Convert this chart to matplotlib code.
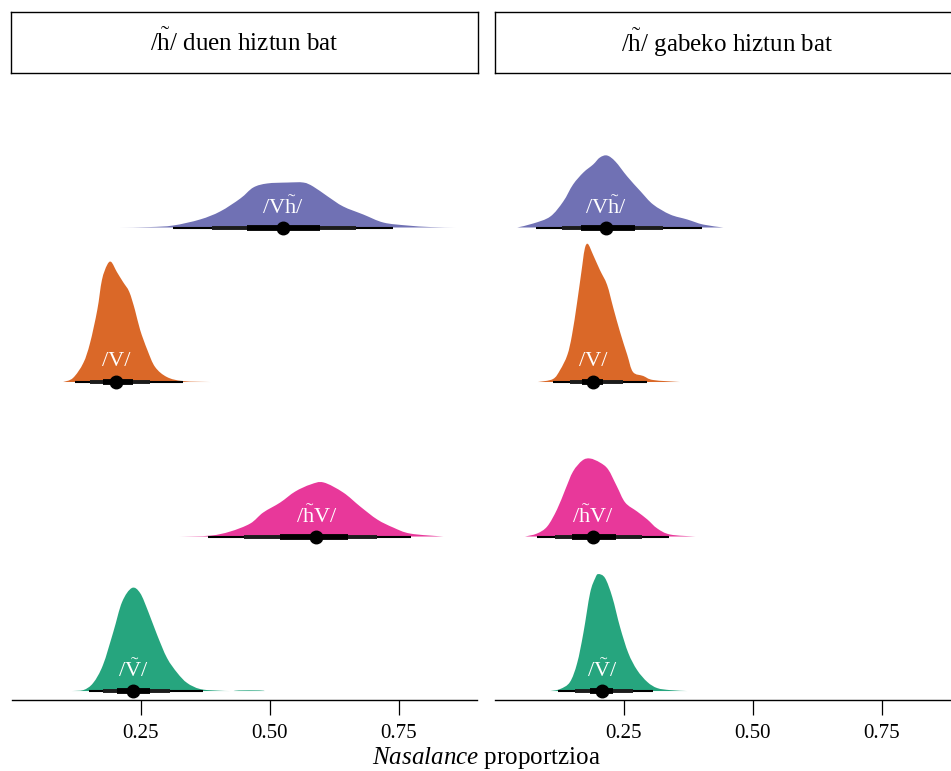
"""
Half-eye plots of nasalance proportion per context, two speaker groups.
Densities were read off the reference chart as (x, height) points.
"""

import matplotlib
matplotlib.use("Agg")
import matplotlib.pyplot as plt
from matplotlib.path import Path
from matplotlib.patches import PathPatch

plt.rcParams["font.family"] = ["Liberation Serif", "DejaVu Serif"]
plt.rcParams["mathtext.fontset"] = "custom"
plt.rcParams["mathtext.rm"] = "Liberation Serif"
plt.rcParams["mathtext.it"] = "Liberation Serif:italic"

# ── Data ──────────────────────────────────────────────────────────────────────

H_TILDE = r"$\tilde{\mathrm{h}}$"
V_TILDE = r"$\tilde{\mathrm{V}}$"

PANELS = [f"/{H_TILDE}/ duen hiztun bat", f"/{H_TILDE}/ gabeko hiztun bat"]
CATEGORIES = [f"/V{H_TILDE}/", "/V/", f"/{H_TILDE}V/", f"/{V_TILDE}/"]  # top→bottom
COLORS = ["#7071B4", "#DA6828", "#E8389A", "#26A57E"]
X_TICKS = [0.25, 0.50, 0.75]
X_LABEL = r"$\it{Nasalance}$ proportzioa"

# left panel (/h̃/ duen hiztun bat): density outline x and height (row units)
L_VH_X = [0.210, 0.268, 0.313, 0.365, 0.404, 0.443, 0.468, 0.495, 0.534,
          0.565, 0.584, 0.612, 0.642, 0.681, 0.720, 0.766, 0.811, 0.859]
L_VH_H = [0.000, 0.003, 0.013, 0.052, 0.104, 0.188, 0.259, 0.285, 0.291,
          0.291, 0.265, 0.201, 0.136, 0.084, 0.032, 0.013, 0.003, 0.000]
L_V_X = [0.100, 0.119, 0.139, 0.152, 0.166, 0.175, 0.185, 0.193, 0.204,
         0.216, 0.228, 0.239, 0.249, 0.263, 0.278, 0.301, 0.332, 0.385]
L_V_H = [0.000, 0.026, 0.123, 0.252, 0.466, 0.660, 0.757, 0.777, 0.712,
         0.647, 0.583, 0.466, 0.337, 0.207, 0.097, 0.032, 0.006, 0.000]
L_HV_X = [0.326, 0.385, 0.423, 0.462, 0.487, 0.520, 0.549, 0.579, 0.604,
          0.642, 0.675, 0.708, 0.739, 0.772, 0.836]
L_HV_H = [0.000, 0.006, 0.032, 0.084, 0.155, 0.220, 0.291, 0.337, 0.350,
          0.285, 0.194, 0.110, 0.058, 0.019, 0.000]
L_VN_X = [0.117, 0.139, 0.158, 0.177, 0.197, 0.214, 0.233, 0.249, 0.265,
          0.282, 0.301, 0.321, 0.340, 0.365, 0.398, 0.423, 0.430, 0.440,
          0.480, 0.490]
L_VN_H = [0.000, 0.006, 0.052, 0.168, 0.382, 0.576, 0.667, 0.634, 0.511,
          0.362, 0.214, 0.117, 0.052, 0.013, 0.003, 0.000, 0.000, 0.004,
          0.004, 0.000]

# right panel (/h̃/ gabeko hiztun bat)
R_VH_X = [0.044, 0.075, 0.108, 0.133, 0.152, 0.172, 0.191, 0.204, 0.218,
          0.234, 0.257, 0.283, 0.307, 0.340, 0.373, 0.404, 0.443]
R_VH_H = [0.000, 0.026, 0.071, 0.168, 0.278, 0.356, 0.408, 0.453, 0.466,
          0.427, 0.330, 0.233, 0.149, 0.084, 0.052, 0.019, 0.000]
R_V_X = [0.084, 0.113, 0.127, 0.141, 0.150, 0.160, 0.170, 0.175, 0.181,
         0.191, 0.204, 0.218, 0.230, 0.243, 0.257, 0.268, 0.288, 0.307, 0.359]
R_V_H = [0.000, 0.019, 0.078, 0.175, 0.304, 0.518, 0.757, 0.867, 0.893,
         0.822, 0.725, 0.628, 0.479, 0.324, 0.175, 0.065, 0.039, 0.013, 0.000]
R_HV_X = [0.059, 0.082, 0.102, 0.121, 0.137, 0.152, 0.170, 0.185, 0.204,
          0.220, 0.237, 0.253, 0.276, 0.296, 0.315, 0.340, 0.389]
R_HV_H = [0.000, 0.019, 0.065, 0.175, 0.304, 0.421, 0.492, 0.505, 0.479,
          0.434, 0.324, 0.220, 0.162, 0.110, 0.052, 0.013, 0.000]
R_VN_X = [0.108, 0.127, 0.146, 0.160, 0.172, 0.185, 0.195, 0.201, 0.214,
          0.228, 0.243, 0.259, 0.276, 0.296, 0.315, 0.340, 0.373]
R_VN_H = [0.000, 0.013, 0.058, 0.181, 0.375, 0.634, 0.731, 0.757, 0.731,
          0.608, 0.414, 0.246, 0.136, 0.058, 0.019, 0.006, 0.000]

# point summaries: median and (lo, hi) of the 95 %, 80 % and 50 % intervals
L_MEDIAN = [0.526, 0.203, 0.590, 0.235]
L_CI95 = [(0.313, 0.739), (0.123, 0.332), (0.381, 0.774), (0.150, 0.371)]
L_CI80 = [(0.389, 0.666), (0.152, 0.268), (0.450, 0.708), (0.177, 0.307)]
L_CI50 = [(0.456, 0.598), (0.177, 0.235), (0.520, 0.652), (0.204, 0.268)]

R_MEDIAN = [0.216, 0.191, 0.191, 0.208]
R_CI95 = [(0.080, 0.402), (0.113, 0.296), (0.082, 0.338), (0.123, 0.307)]
R_CI80 = [(0.131, 0.327), (0.146, 0.249), (0.117, 0.286), (0.156, 0.268)]
R_CI50 = [(0.168, 0.272), (0.170, 0.210), (0.150, 0.235), (0.185, 0.230)]


# ── Plotting helpers ──────────────────────────────────────────────────────────

def _smooth_slab(xs, hs, y0):
    """Closed path: Catmull-Rom curve through the read points, flat base."""
    pts = [(x, y0 + h) for x, h in zip(xs, hs)]
    verts = [(xs[0], y0), pts[0]]
    codes = [Path.MOVETO, Path.LINETO]
    n = len(pts)
    for i in range(n - 1):
        p0 = pts[i - 1] if i > 0 else pts[i]
        p1, p2 = pts[i], pts[i + 1]
        p3 = pts[i + 2] if i + 2 < n else pts[i + 1]
        c1 = (p1[0] + (p2[0] - p0[0]) / 6, max(y0, p1[1] + (p2[1] - p0[1]) / 6))
        c2 = (p2[0] - (p3[0] - p1[0]) / 6, max(y0, p2[1] - (p3[1] - p1[1]) / 6))
        verts += [c1, c2, p2]
        codes += [Path.CURVE4] * 3
    verts += [(xs[-1], y0), (xs[0], y0)]
    codes += [Path.LINETO, Path.CLOSEPOLY]
    return Path(verts, codes)


def _draw_panel(ax, xs, hs, medians, ci95, ci80, ci50):
    n = len(CATEGORIES)
    for i, cat in enumerate(CATEGORIES):
        y0 = n - i
        ax.add_patch(PathPatch(_smooth_slab(xs[i], hs[i], y0),
                               facecolor=COLORS[i], edgecolor="none", zorder=1))
        ax.plot(ci95[i], [y0, y0], color="black", lw=1.5,
                solid_capstyle="butt", zorder=2)
        ax.plot(ci80[i], [y0, y0], color="#1c1c1c", lw=2.8,
                solid_capstyle="butt", zorder=3)
        ax.plot(ci50[i], [y0, y0], color="black", lw=4.2,
                solid_capstyle="butt", zorder=4)
        ax.plot([medians[i]], [y0], "o", color="black", ms=9, zorder=5)
        ax.text(medians[i], y0 + 0.13, cat, color="white", fontsize=16,
                ha="center", va="center", zorder=6)

    ax.set_xlim(0.0, 0.9)
    ax.set_ylim(0.942, 4.987)
    ax.set_xticks(X_TICKS)
    ax.set_xticklabels([f"{t:.2f}" for t in X_TICKS], fontsize=15)
    ax.set_yticks([])
    for side in ("left", "right", "top"):
        ax.spines[side].set_visible(False)
    ax.spines["bottom"].set_linewidth(1.0)
    ax.tick_params(axis="x", length=11, width=0.9, pad=6, color="black")


def _draw_strip(fig, rect, label):
    sax = fig.add_axes(rect)
    sax.set_xticks([])
    sax.set_yticks([])
    for sp in sax.spines.values():
        sp.set_linewidth(1.0)
    sax.text(0.5, 0.5, label, ha="center", va="center", fontsize=18,
             transform=sax.transAxes)


# ── Figure ────────────────────────────────────────────────────────────────────

W, H = 951, 771
fig = plt.figure(figsize=(W / 100, H / 100), dpi=100)

ax_w = 465 / W
ax_b = (H - 700) / H
ax_h = (700 - 75) / H
strip_b = (H - 73) / H
strip_h = 61 / H

left_x = 11.5 / W
right_x = 494.5 / W

ax_l = fig.add_axes([left_x, ax_b, ax_w, ax_h])
ax_r = fig.add_axes([right_x, ax_b, ax_w, ax_h])

_draw_panel(ax_l, [L_VH_X, L_V_X, L_HV_X, L_VN_X],
            [L_VH_H, L_V_H, L_HV_H, L_VN_H],
            L_MEDIAN, L_CI95, L_CI80, L_CI50)
_draw_panel(ax_r, [R_VH_X, R_V_X, R_HV_X, R_VN_X],
            [R_VH_H, R_V_H, R_HV_H, R_VN_H],
            R_MEDIAN, R_CI95, R_CI80, R_CI50)

_draw_strip(fig, [left_x - 0.5 / W, strip_b, ax_w + 2 / W, strip_h], PANELS[0])
_draw_strip(fig, [right_x + 0.5 / W, strip_b, ax_w, strip_h], PANELS[1])

fig.text(486 / W, (H - 764) / H, X_LABEL, ha="center", va="baseline",
         fontsize=18)

fig.savefig("out.png", dpi=100)
